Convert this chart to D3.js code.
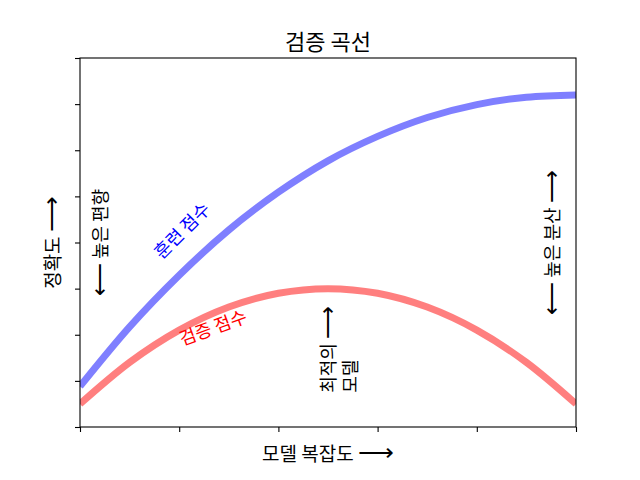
<!DOCTYPE html>
<html>
<head>
<meta charset="utf-8">
<script src="https://cdn.jsdelivr.net/npm/d3@7"></script>
<style>
  body { margin: 0; background: #fff; }
  text { font-family: "Noto Sans CJK KR", "DejaVu Sans", sans-serif; }
  .arrow { font-family: "DejaVu Sans ExtraLight", "DejaVu Sans", sans-serif; font-weight: 200; }
</style>
</head>
<body>
<div id="chart"></div>
<script>
// model complexity (0..1) and scores
const complexity = [0, 0.1, 0.2, 0.3, 0.4, 0.5, 0.6, 0.7, 0.8, 0.9, 1.0];
const trainScore = [-0.212, -0.083, 0.029, 0.127, 0.209, 0.277, 0.330, 0.371, 0.399, 0.415, 0.42];
const validScore = [-0.25, -0.16, -0.09, -0.04, -0.01, 0, -0.01, -0.04, -0.09, -0.16, -0.25];
const xTicks = [0, 0.2, 0.4, 0.6, 0.8, 1.0];
const yTicks = [-0.3, -0.2, -0.1, 0, 0.1, 0.2, 0.3, 0.4, 0.5];

const margin = { top: 58, right: 64, bottom: 53, left: 80 },
  width = 640 - margin.left - margin.right,
  height = 480 - margin.top - margin.bottom;

const svg = d3
  .select("#chart")
  .append("svg")
  .attr("width", 640)
  .attr("height", 480);

const g = svg
  .append("g")
  .attr("transform", `translate(${margin.left}, ${margin.top})`);

const x = d3.scaleLinear().domain([0, 1]).range([0, width]);
const y = d3.scaleLinear().domain([-0.3, 0.5]).range([height, 0]);

// clip so the thick lines stop at the axes
g.append("clipPath")
  .attr("id", "clip")
  .append("rect")
  .attr("width", width)
  .attr("height", height);

const line = (vals) =>
  d3
    .line()
    .x((d, i) => x(complexity[i]))
    .y((d) => y(d))
    .curve(d3.curveMonotoneX)(vals);

const lines = g.append("g").attr("clip-path", "url(#clip)");
lines
  .append("path")
  .attr("d", line(trainScore))
  .attr("fill", "none")
  .attr("stroke", "blue")
  .attr("stroke-opacity", 0.5)
  .attr("stroke-width", 7);
lines
  .append("path")
  .attr("d", line(validScore))
  .attr("fill", "none")
  .attr("stroke", "red")
  .attr("stroke-opacity", 0.5)
  .attr("stroke-width", 7);

// axes with no tick labels
const xAxis = g
  .append("g")
  .attr("transform", `translate(0, ${height})`)
  .call(d3.axisBottom(x).tickValues(xTicks).tickFormat("").tickSize(5).tickSizeOuter(0));
const yAxis = g
  .append("g")
  .call(d3.axisLeft(y).tickValues(yTicks).tickFormat("").tickSize(5).tickSizeOuter(0));
[xAxis, yAxis].forEach((a) => {
  a.selectAll("path").remove();
  a.selectAll("line").attr("stroke", "#000").attr("stroke-width", 1.1);
});

// frame
g.append("rect")
  .attr("width", width)
  .attr("height", height)
  .attr("fill", "none")
  .attr("stroke", "#000")
  .attr("stroke-width", 1.1);

// put long arrows in their own wider tspans
function fill(sel, str) {
  str.split(/([⟵⟶])/).forEach((part) => {
    if (!part) return;
    const t = sel.append("tspan").text(part);
    if (part === "⟵" || part === "⟶") t.attr("class", "arrow").style("font-size", "1.3em");
  });
  return sel;
}

// title and labels
svg.append("text")
  .attr("x", margin.left + width / 2)
  .attr("y", 50)
  .attr("text-anchor", "middle")
  .style("font-size", "22px")
  .text("검증 곡선");

fill(
  svg.append("text")
    .attr("x", margin.left + width / 2)
    .attr("y", 461)
    .attr("text-anchor", "middle")
    .style("font-size", "19px"),
  "모델 복잡도 ⟶"
);

fill(
  svg.append("text")
    .attr("transform", `translate(60, ${margin.top + height / 2}) rotate(-90)`)
    .attr("text-anchor", "middle")
    .style("font-size", "19px"),
  "정확도 ⟶"
);

// annotations
const note = (tx, ty, rot, str, color, anchor) =>
  fill(
    g.append("text")
      .attr("transform", `translate(${tx}, ${ty}) rotate(${rot})`)
      .attr("text-anchor", anchor || "start")
      .attr("fill", color || "#000")
      .style("font-size", "18px"),
    str
  );

note(x(0.165), y(0.062), -45, "훈련 점수", "blue");
note(x(0.206), y(-0.124), -20, "검증 점수", "red");
note(x(0.054), y(0.1), -90, "⟵ 높은 편향", "#000", "middle");
note(x(0.966), y(0.1), -90, "⟵ 높은 분산 ⟶", "#000", "middle");
note(x(0.515), y(-0.226), -90, "최적의 ⟶");
note(x(0.558), y(-0.226), -90, "모델");
</script>
</body>
</html>
